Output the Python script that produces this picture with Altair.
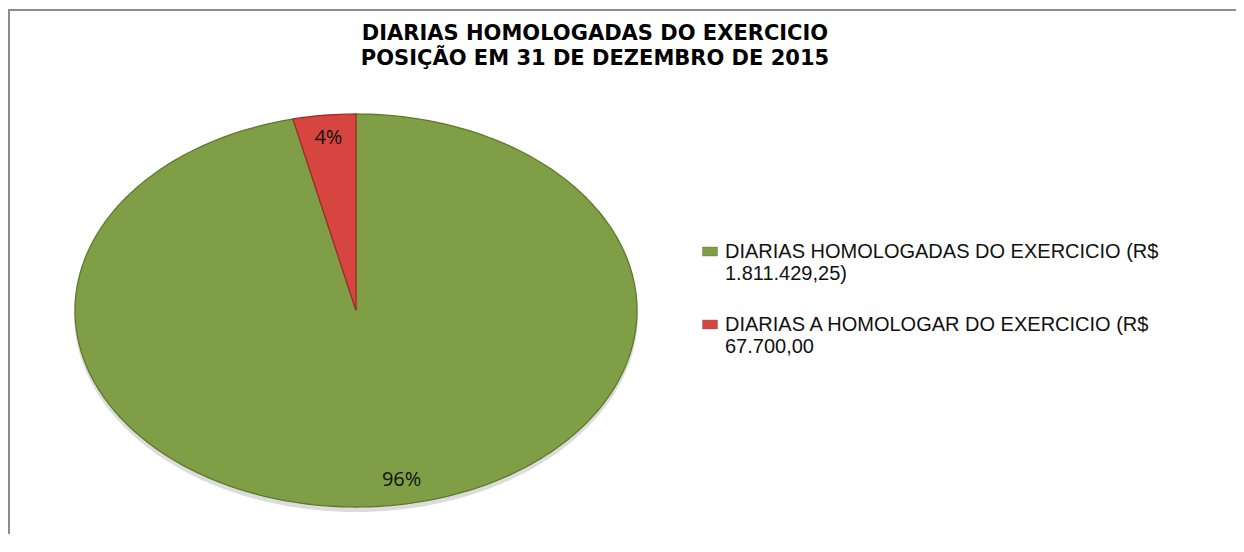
import altair as alt
import numpy as np
import pandas as pd

# ---- data ----
categories = ["DIARIAS HOMOLOGADAS DO EXERCICIO", "DIARIAS A HOMOLOGAR DO EXERCICIO"]
values = [1811429.25, 67700.00]
pct_labels = ["96%", "4%"]
legend_lines = [
    ["DIARIAS HOMOLOGADAS DO EXERCICIO  (R$", "1.811.429,25)"],
    ["DIARIAS A HOMOLOGAR DO EXERCICIO  (R$", "67.700,00"],
]
title_lines = ["DIARIAS HOMOLOGADAS DO EXERCICIO", "POSIÇÃO EM 31 DE DEZEMBRO DE 2015"]

# ---- styling / layout ----
colors = ["#7F9E45", "#D6453F"]
edge_colors = ["#5E7A2C", "#9E2E2A"]
W, H = 1228, 526
CX, CY, RX, RY = 348, 302.5, 281, 196.5

total = sum(values)

# slice outlines (elliptical pie, clockwise from 12 o'clock)
rows = []
start = 0.0
for cat, v in zip(categories, values):
    frac = v / total
    angs = np.linspace(start * 2 * np.pi, (start + frac) * 2 * np.pi, max(6, int(frac * 360)) + 1)
    rows.append(dict(cat=cat, i=0, x=CX, y=CY))
    for k, a in enumerate(angs):
        rows.append(dict(cat=cat, i=k + 1, x=CX + RX * np.sin(a), y=CY - RY * np.cos(a)))
    rows.append(dict(cat=cat, i=len(angs) + 1, x=CX, y=CY))
    start += frac
pie_df = pd.DataFrame(rows)

# soft shadow below the pie
sh = np.linspace(0, 2 * np.pi, 361)
shadow_df = pd.DataFrame(dict(i=np.arange(len(sh)), x=CX + (RX + 1) * np.sin(sh), y=CY + 4 - (RY + 1) * np.cos(sh)))

# percent labels
lab_rows = []
start = 0.0
for cat, v, t in zip(categories, values, pct_labels):
    frac = v / total
    mid = (start + frac / 2) * 2 * np.pi
    lab_rows.append(dict(cat=cat, t=t, x=CX + 0.87 * RX * np.sin(mid) + (18 if frac > 0.5 else 0),
                         y=CY - 0.87 * RY * np.cos(mid) - (0 if frac > 0.5 else 3)))
    start += frac
lab_df = pd.DataFrame(lab_rows)

# legend
LX, LY, LSTEP, LLINE = 702, 243.5, 73, 22.5
leg_sym = pd.DataFrame(dict(cat=categories, x=[LX] * len(categories), y=[LY + k * LSTEP for k in range(len(categories))]))
leg_txt = pd.DataFrame([
    dict(t=line, x=LX + 15, y=LY + k * LSTEP + j * LLINE)
    for k, lines in enumerate(legend_lines) for j, line in enumerate(lines)
])

# title
title_df = pd.DataFrame(dict(t=title_lines, x=[587] * len(title_lines), y=[26.3 + 24.5 * j for j in range(len(title_lines))]))

xs = alt.X("x:Q", scale=alt.Scale(domain=[0, W], nice=False, zero=False), axis=None)
ys = alt.Y("y:Q", scale=alt.Scale(domain=[0, H], nice=False, zero=False, reverse=True), axis=None)
cscale = alt.Scale(domain=categories, range=colors)

frame = pd.DataFrame(dict(a=[0]))
border_left = alt.Chart(frame).mark_rule(stroke="#8C8C8C", strokeWidth=2).encode(
    x=alt.value(1), y=alt.value(1), y2=alt.value(H)
)
border_top = alt.Chart(frame).mark_rule(stroke="#8C8C8C", strokeWidth=2).encode(
    x=alt.value(0), x2=alt.value(W), y=alt.value(2)
)

shadow = alt.Chart(shadow_df).mark_line(filled=True, color="#9a9a9a", opacity=0.35, strokeWidth=3).encode(
    x=xs, y=ys, order="i:Q"
)

pie = alt.Chart(pie_df).mark_line(filled=True, strokeWidth=1.3, strokeJoin="round").encode(
    x=xs, y=ys, order="i:Q",
    color=alt.Color("cat:N", scale=cscale, legend=None),
    stroke=alt.Stroke("cat:N", scale=alt.Scale(domain=categories, range=edge_colors), legend=None),
)

labels = alt.Chart(lab_df).mark_text(font="Open Sans", fontSize=20, color="#111111", baseline="middle", align="center").encode(
    x=xs, y=ys, text="t:N"
)

sym = alt.Chart(leg_sym).mark_point(
    shape="M-1,-0.6L1,-0.6L1,0.6L-1,0.6Z", filled=True, size=225, opacity=1, stroke="#666666", strokeWidth=0.4
).encode(x=xs, y=ys, color=alt.Color("cat:N", scale=cscale, legend=None))

legtext = alt.Chart(leg_txt).mark_text(font="Liberation Sans", fontSize=20, color="#111111", align="left", baseline="middle").encode(
    x=xs, y=ys, text="t:N"
)

title = alt.Chart(title_df).mark_text(font="DejaVu Sans", fontWeight="bold", fontSize=21, color="#000000",
                                      align="center", baseline="middle").encode(x=xs, y=ys, text="t:N")

chart = alt.layer(border_left, border_top, shadow, pie, labels, sym, legtext, title).properties(
    width=W, height=H, padding=0, autosize=alt.AutoSizeParams(type="none"), background="white"
).configure_view(strokeWidth=0, stroke="transparent", strokeOpacity=0)

chart.save("out.html", embed_options={"renderer": "svg", "actions": False})
